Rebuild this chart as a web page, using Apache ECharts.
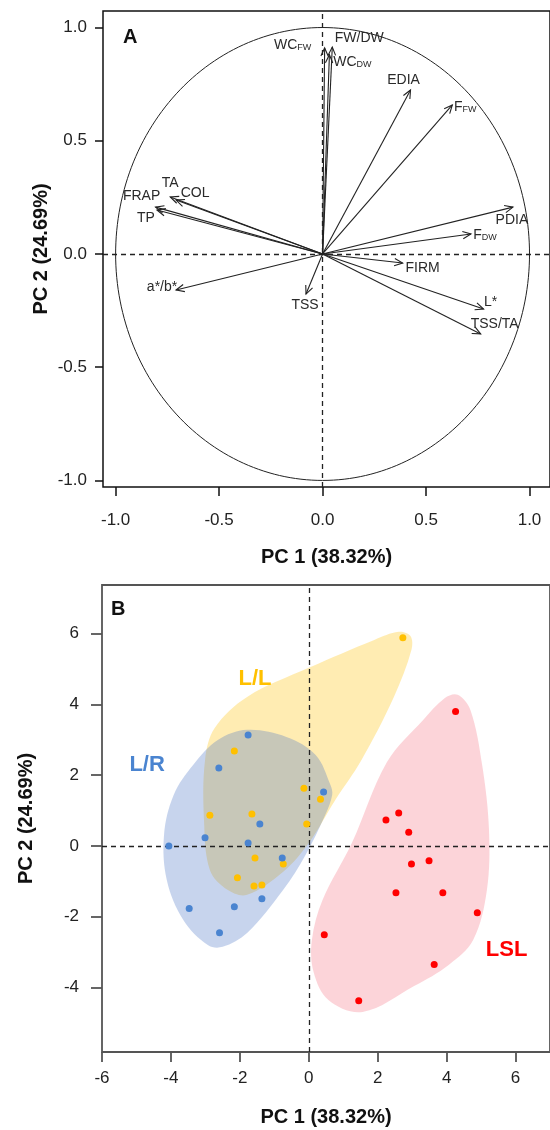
<!DOCTYPE html>
<html>
<head>
<meta charset="utf-8">
<script src="https://cdn.jsdelivr.net/npm/echarts@6/dist/echarts.min.js"></script>
<style>html,body{margin:0;padding:0;background:#fff}#c{width:550px;height:1130px}</style>
</head>
<body>
<div id="c"></div>
<script>
// ---------- Panel A: loadings ----------
const arrowNames = ['WC{s|FW}', 'FW/DW', 'WC{s|DW}', 'EDIA', 'F{s|FW}', 'TA', 'COL', 'FRAP', 'TP', 'a*/b*', 'TSS', 'PDIA', 'F{s|DW}', 'FIRM', 'L*', 'TSS/TA'];
const arrowPC1 = [0.010, 0.047, 0.033, 0.425, 0.627, -0.736, -0.708, -0.807, -0.800, -0.708, -0.080, 0.920, 0.717, 0.387, 0.778, 0.764];
const arrowPC2 = [0.910, 0.914, 0.880, 0.724, 0.658, 0.252, 0.238, 0.207, 0.194, -0.159, -0.177, 0.207, 0.088, -0.040, -0.243, -0.353];
const ticksA = [-1.0, -0.5, 0.0, 0.5, 1.0];

// ---------- Panel B: scores ----------
const groups = ['L/L', 'L/R', 'LSL'];
const llPC1 = [2.73, -2.16, -0.14, 0.34, -2.87, -1.65, -0.06, -1.56, -0.74, -2.07, -1.59, -1.36];
const llPC2 = [5.88, 2.68, 1.63, 1.32, 0.87, 0.90, 0.62, -0.34, -0.51, -0.90, -1.13, -1.10];
const lrPC1 = [-1.76, -2.61, 0.43, -1.42, -3.01, -4.06, -1.76, -0.77, -1.36, -2.16, -3.47, -2.59];
const lrPC2 = [3.13, 2.20, 1.52, 0.62, 0.23, 0.00, 0.08, -0.34, -1.49, -1.72, -1.77, -2.45];
const lslPC1 = [4.26, 2.24, 2.61, 2.90, 2.98, 3.49, 2.53, 3.89, 4.89, 0.45, 3.64, 1.45];
const lslPC2 = [3.80, 0.73, 0.93, 0.39, -0.51, -0.42, -1.32, -1.32, -1.89, -2.51, -3.35, -4.37];
// group envelopes (outline vertices, PC1 / PC2)
const llHullPC1 = [2.61, 2.95, 2.98, 2.47, 1.53, 0.77, 0.00, -0.74, -1.79, -2.36, -2.87, -3.04, -3.01, -2.73, -1.79, 0.00, 1.90];
const llHullPC2 = [6.05, 5.93, 5.54, 4.21, 2.43, 1.30, 0.08, -0.73, -1.38, -1.24, -0.68, 0.73, 2.43, 3.33, 4.21, 5.03, 5.82];
const lrHullPC1 = [-1.79, -0.65, 0.20, 0.63, 0.68, 0.48, -0.09, -0.74, -1.79, -2.50, -2.93, -3.64, -4.12, -4.20, -3.92, -3.35, -2.64];
const lrHullPC2 = [3.28, 3.08, 2.57, 1.72, 1.44, 0.88, -0.25, -1.24, -2.46, -2.85, -2.80, -2.09, -0.96, 0.31, 1.44, 2.29, 2.99];
const lslHullPC1 = [4.32, 4.69, 5.03, 5.23, 5.17, 4.77, 4.06, 3.07, 1.56, 0.57, 0.14, 0.09, 0.40, 1.25, 2.27, 3.32, 3.95];
const lslHullPC2 = [4.27, 3.84, 2.29, 0.45, -1.24, -2.66, -3.36, -3.95, -4.69, -4.35, -3.56, -2.66, -1.53, 0.08, 2.37, 3.56, 4.18];
const ticksBx = [-6, -4, -2, 0, 2, 4, 6];
const ticksBy = [-4, -2, 0, 2, 4, 6];

// ---------- styling config ----------
const FONT = '"Liberation Sans", Arial, sans-serif';
const arrowLabelOffset = [[-32, -3], [27, -9], [23, 7], [-7, -10], [13, 2], [0, -14], [19, -7], [-14, -11], [-11, 8], [-14, -3], [-1, 11], [-1, 13], [14, 1], [20, 5], [7, -7], [14, -10]];
const groupLabelAt = [[-1.56, 4.73], [-4.69, 2.28], [5.74, -2.93]];
const groupColor = ['#FFC000', '#4A84D0', '#FF0000'];
const groupFill = ['rgba(255,192,0,0.30)', 'rgba(68,114,196,0.30)', 'rgba(240,60,80,0.22)'];

const zip = (a, b) => a.map((v, i) => [v, b[i]]);
const hulls = [zip(llHullPC1, llHullPC2), zip(lrHullPC1, lrHullPC2), zip(lslHullPC1, lslHullPC2)];
const pts = [zip(llPC1, llPC2), zip(lrPC1, lrPC2), zip(lslPC1, lslPC2)];

const chart = echarts.init(document.getElementById('c'), null, {renderer: 'canvas'});

const dashed = {
  silent: true, symbol: ['none', 'none'], label: {show: false},
  lineStyle: {color: '#222', type: [5, 4], width: 1.3},
  emphasis: {disabled: true},
  data: [{xAxis: 0}, {yAxis: 0}]
};

const series = [];
// circle
series.push({
  type: 'custom', xAxisIndex: 0, yAxisIndex: 0, silent: true, z: 2,
  data: [[0, 0]],
  renderItem: function (params, api) {
    const p = [];
    for (let i = 0; i < 240; i++) {
      const t = i / 240 * 2 * Math.PI;
      p.push(api.coord([Math.cos(t), Math.sin(t)]));
    }
    return {type: 'polygon', shape: {points: p}, style: {fill: 'none', stroke: '#222', lineWidth: 1}};
  },
  markLine: dashed
});
// arrows
series.push({
  type: 'custom', xAxisIndex: 0, yAxisIndex: 0, silent: true, z: 5,
  data: arrowPC1.map((x, i) => [x, arrowPC2[i], i]),
  renderItem: function (params, api) {
    const i = api.value(2);
    const p0 = api.coord([0, 0]);
    const p1 = api.coord([api.value(0), api.value(1)]);
    const ang = Math.atan2(p1[1] - p0[1], p1[0] - p0[0]);
    const L = 9, s = 0.42;
    const h1 = [p1[0] - L * Math.cos(ang - s), p1[1] - L * Math.sin(ang - s)];
    const h2 = [p1[0] - L * Math.cos(ang + s), p1[1] - L * Math.sin(ang + s)];
    const off = arrowLabelOffset[i];
    return {
      type: 'group',
      children: [
        {type: 'line', shape: {x1: p0[0], y1: p0[1], x2: p1[0], y2: p1[1]}, style: {stroke: '#222', lineWidth: 1.1}},
        {type: 'polyline', shape: {points: [h1, p1, h2]}, style: {stroke: '#222', fill: 'none', lineWidth: 1.1}},
        {type: 'text', x: p1[0] + off[0], y: p1[1] + off[1],
         style: {text: arrowNames[i], fill: '#2a2a2a', fontSize: 14, fontFamily: FONT, align: 'center', verticalAlign: 'middle',
                 rich: {s: {fontSize: 9, fontFamily: FONT, fill: '#2a2a2a', padding: [5, 0, 0, 0]}}}}
      ]
    };
  }
});
// hulls (panel B)
[0, 1, 2].forEach(function (g) {
  series.push({
    type: 'custom', xAxisIndex: 1, yAxisIndex: 1, silent: true, z: 1 + (g === 1 ? 1 : 0),
    data: [[0, 0]],
    renderItem: function (params, api) {
      const p = hulls[g].map(v => api.coord(v));
      return {type: 'polygon', shape: {points: p, smooth: 0.35}, style: {fill: groupFill[g], stroke: 'none'}};
    }
  });
});
// points
[0, 1, 2].forEach(function (g) {
  series.push({
    type: 'scatter', name: groups[g], xAxisIndex: 1, yAxisIndex: 1, z: 10,
    symbolSize: 7, itemStyle: {color: groupColor[g], opacity: 1},
    data: pts[g],
    markLine: g === 0 ? dashed : undefined
  });
});
// group labels
series.push({
  type: 'custom', xAxisIndex: 1, yAxisIndex: 1, silent: true, z: 11,
  data: groupLabelAt.map((v, i) => [v[0], v[1], i]),
  renderItem: function (params, api) {
    const i = api.value(2);
    const p = api.coord([api.value(0), api.value(1)]);
    return {type: 'text', x: p[0], y: p[1], style: {text: groups[i], fill: groupColor[i], fontSize: 22, fontWeight: 'bold', fontFamily: FONT, align: 'center', verticalAlign: 'middle'}};
  }
});

const axisCommon = {
  splitLine: {show: false},
  axisLine: {show: false, onZero: false},
  nameTextStyle: {fontSize: 20, fontWeight: 'bold', fontFamily: FONT, color: '#111'},
  nameLocation: 'middle',
  nameMoveOverlap: false
};

chart.setOption({
  animation: false,
  textStyle: {fontFamily: FONT},
  title: [
    {text: 'A', left: 118, top: 22, textStyle: {fontSize: 20, fontWeight: 'bold', fontFamily: FONT, color: '#111'}},
    {text: 'B', left: 106, top: 594, textStyle: {fontSize: 20, fontWeight: 'bold', fontFamily: FONT, color: '#111'}}
  ],
  grid: [
    {left: 103, top: 11, width: 458, height: 476, show: true, borderColor: '#111', borderWidth: 1.5, backgroundColor: 'transparent'},
    {left: 102, top: 585, width: 458, height: 467, show: true, borderColor: '#555', borderWidth: 1.8, backgroundColor: 'transparent'}
  ],
  xAxis: [
    Object.assign({}, axisCommon, {
      gridIndex: 0, type: 'value', min: -1.061, max: 1.099, position: 'bottom',
      name: 'PC 1 (38.32%)', nameGap: 60,
      axisTick: {show: true, customValues: ticksA, length: 9, lineStyle: {color: '#111', width: 1.5}},
      axisLabel: {customValues: ticksA, formatter: v => v.toFixed(1), fontSize: 17, color: '#222', margin: 25}
    }),
    Object.assign({}, axisCommon, {
      gridIndex: 1, type: 'value', min: -6, max: 7, position: 'bottom',
      name: 'PC 1 (38.32%)', nameGap: 55,
      axisTick: {show: true, customValues: ticksBx, length: 10, lineStyle: {color: '#555', width: 1.8}},
      axisLabel: {customValues: ticksBx, formatter: v => String(v), fontSize: 17, color: '#222', margin: 18}
    })
  ],
  yAxis: [
    Object.assign({}, axisCommon, {
      gridIndex: 0, type: 'value', min: -1.029, max: 1.073, position: 'left',
      name: 'PC 2 (24.69%)', nameGap: 52,
      axisTick: {show: true, customValues: ticksA, length: 8, lineStyle: {color: '#111', width: 1.5}},
      axisLabel: {customValues: ticksA, formatter: v => v.toFixed(1), fontSize: 17, color: '#222', margin: 16}
    }),
    Object.assign({}, axisCommon, {
      gridIndex: 1, type: 'value', min: -5.82, max: 7.37, position: 'left',
      name: 'PC 2 (24.69%)', nameGap: 66,
      axisTick: {show: true, customValues: ticksBy, length: 11, lineStyle: {color: '#555', width: 1.8}},
      axisLabel: {customValues: ticksBy, formatter: v => String(v), fontSize: 17, color: '#222', margin: 23}
    })
  ],
  series: series
});
</script>
</body>
</html>
